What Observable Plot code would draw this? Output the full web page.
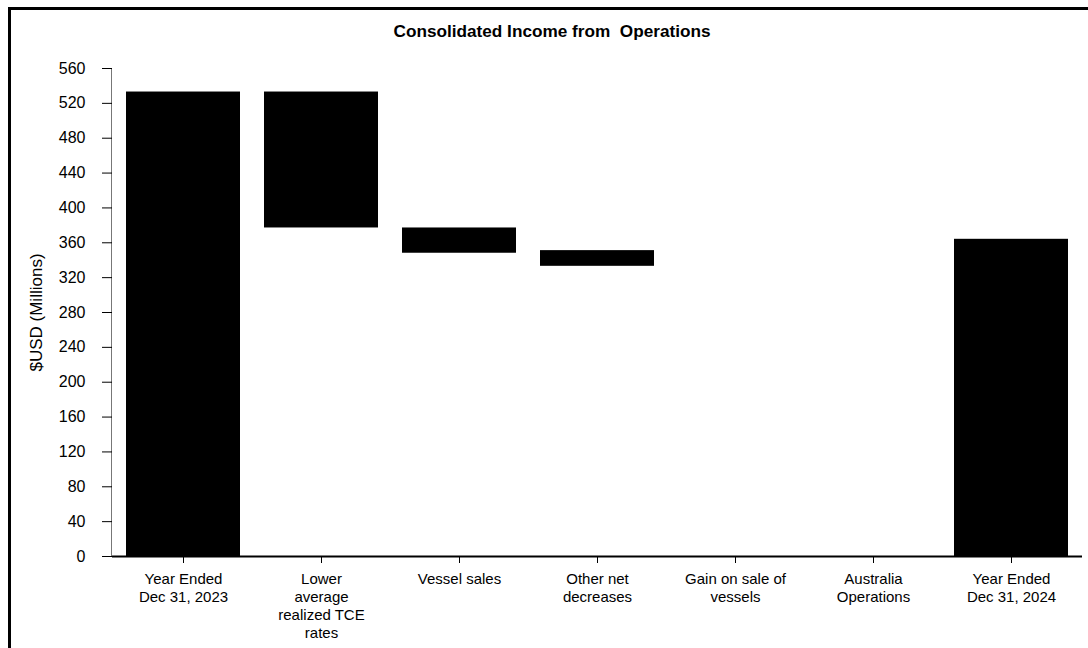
<!DOCTYPE html>
<html>
<head>
<meta charset="utf-8">
<script src="https://cdn.jsdelivr.net/npm/d3@7"></script>
<script src="https://cdn.jsdelivr.net/npm/@observablehq/plot@0.6"></script>
<style>
  html, body { margin: 0; padding: 0; background: #fff; }
  #wrap { position: relative; width: 1088px; height: 648px; overflow: hidden; font-family: "Liberation Sans", Arial, sans-serif; }
  #frame { position: absolute; left: 8px; top: 7px; width: 1200px; height: 800px; border-top: 3px solid #000; border-left: 3px solid #000; box-sizing: border-box; }
  #title { position: absolute; left: 352px; width: 400px; top: 21px; text-align: center; font-weight: bold; font-size: 17.2px; color: #000; white-space: pre; }
  #chart { position: absolute; left: 0; top: 0; }
</style>
</head>
<body>
<div id="wrap">
  <div id="frame"></div>
  <div id="chart"></div>
  <div id="title">Consolidated Income from  Operations</div>
</div>
<script>
const title = "Consolidated Income from  Operations";
const yLabel = "$USD (Millions)";
const categories = [
  "Year Ended\nDec 31, 2023",
  "Lower\naverage\nrealized TCE\nrates",
  "Vessel sales",
  "Other net\ndecreases",
  "Gain on sale of\nvessels",
  "Australia\nOperations",
  "Year Ended\nDec 31, 2024"
];
// visible floating bars (low / high), in $ millions
const barCategories = [categories[0], categories[1], categories[2], categories[3], categories[6]];
const barLow  = [0,   377, 348, 333, 0];
const barHigh = [533, 533, 377, 351, 364];
const yTicks = d3.range(0, 561, 40);

const bars = barCategories.map((c, i) => ({cat: c, y1: barLow[i], y2: barHigh[i]}));

const yAxisLine = (index, scales, values, dimensions) => {
  const g = document.createElementNS("http://www.w3.org/2000/svg", "line");
  const x = dimensions.marginLeft - 0.5;
  g.setAttribute("x1", x);
  g.setAttribute("x2", x);
  g.setAttribute("y1", scales.y(0));
  g.setAttribute("y2", scales.y(560));
  g.setAttribute("stroke", "#777");
  g.setAttribute("stroke-width", "1");
  return g;
};

const chart = Plot.plot({
  width: 1088,
  height: 648,
  marginLeft: 112,
  marginRight: 6,
  marginTop: 68,
  marginBottom: 92,
  style: {fontFamily: "'Liberation Sans', Arial, sans-serif", fontSize: "15px", color: "#000", background: "transparent"},
  x: {domain: categories, paddingInner: 0.1745, paddingOuter: 0.0873},
  y: {domain: [0, 560]},
  marks: [
    Plot.barY(bars, {x: "cat", y1: "y1", y2: "y2", fill: "#000"}),
    yAxisLine,
    Plot.ruleY([0], {stroke: "#000", strokeWidth: 2}),
    Plot.axisY({ticks: yTicks, tickSize: 10, tickPadding: 17, fontSize: 16, label: null, fill: "#000", stroke: "#000"}),
    Plot.axisX({tickSize: 7, tickPadding: 7, fontSize: 15, lineHeight: 1.22, label: null, fill: "#000", stroke: "#000"}),
    Plot.text([yLabel], {frameAnchor: "left", textAnchor: "middle", rotate: -90, dx: -76, fontSize: 17, fill: "#000"})
  ]
});
document.getElementById("chart").appendChild(chart);
</script>
</body>
</html>
